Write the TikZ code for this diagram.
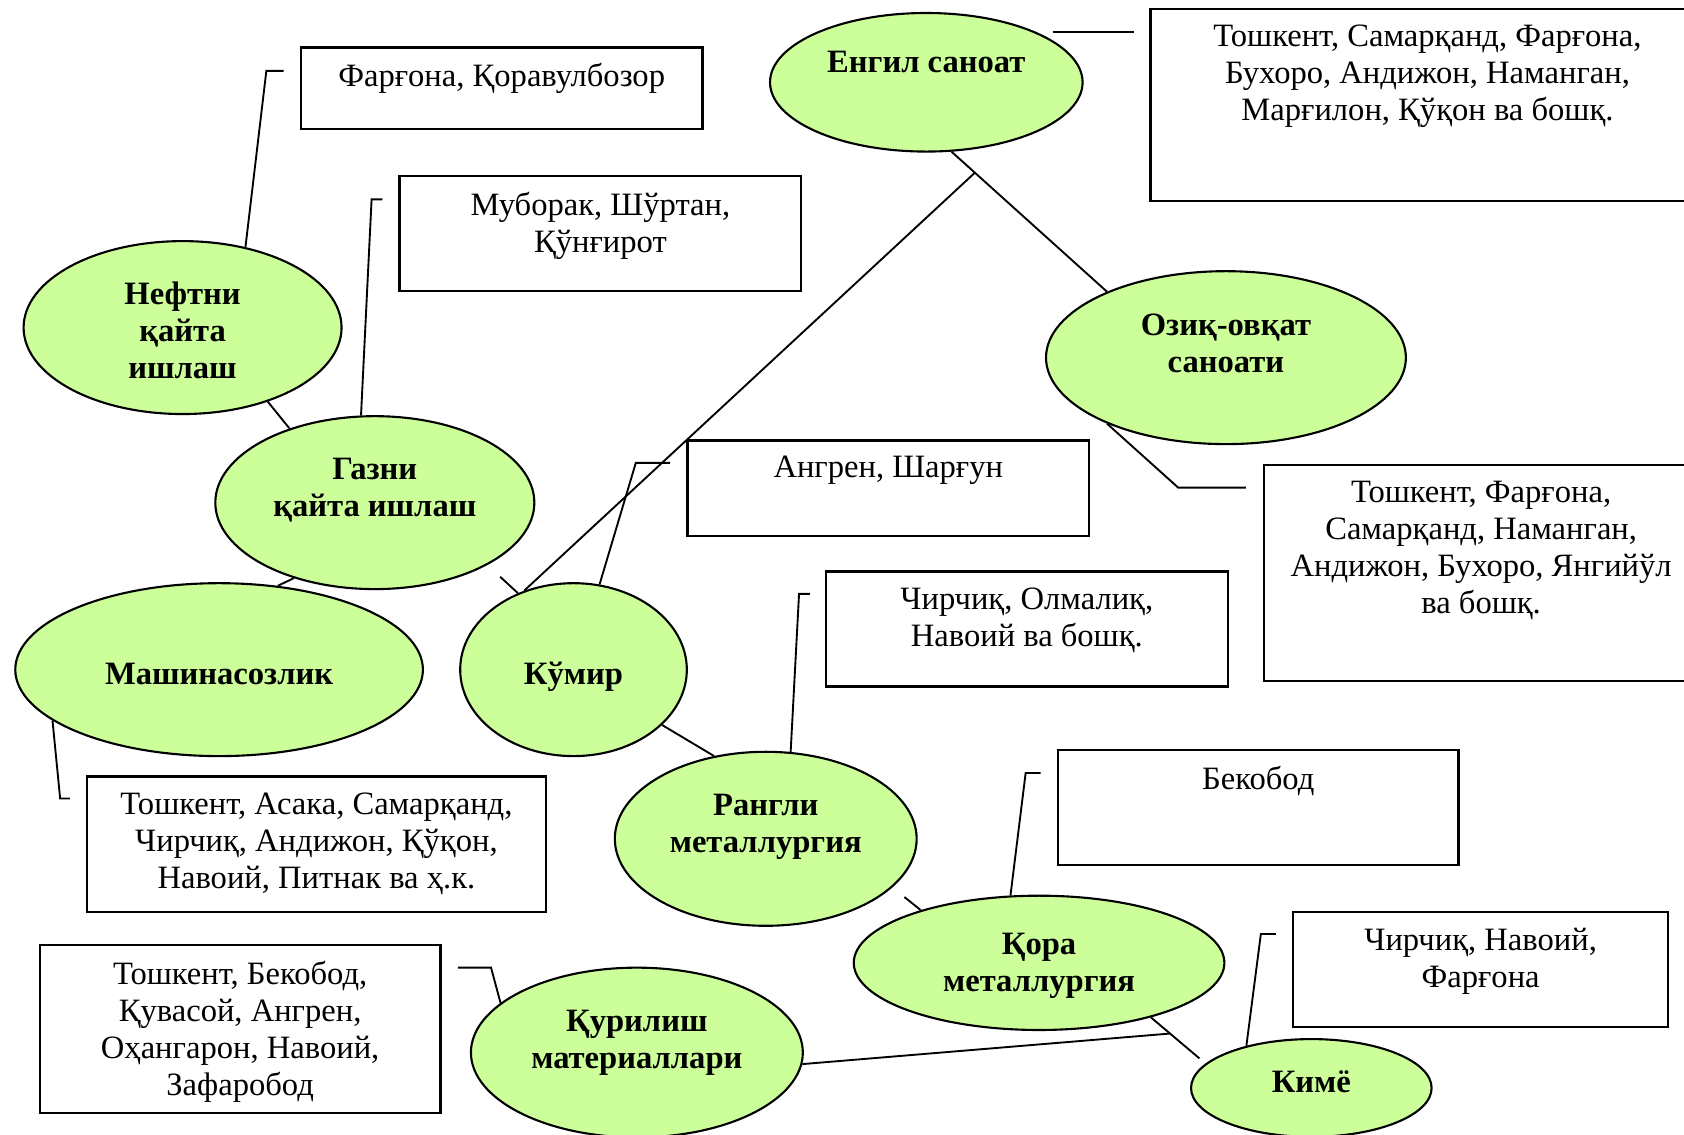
\documentclass[tikz,border=0pt]{standalone}
\usepackage{fontspec}
\setmainfont{Liberation Serif}
\usetikzlibrary{shapes.geometric,calc}
\definecolor{leafgreen}{HTML}{CCFF99}
\newcommand{\mapfont}{\fontsize{13.9pt}{15.8pt}\selectfont}
\tikzset{
  sector/.style={ellipse, draw, fill=leafgreen, line width=.9pt, inner sep=0pt},
  sectorname/.style={font=\mapfont\bfseries, align=center, inner sep=0pt},
  towns/.style={rectangle, draw, line width=1pt, anchor=north west, inner sep=0pt},
  townsname/.style={font=\mapfont, align=center, anchor=north, inner sep=0pt, yshift=-.25cm},
  link/.style={line width=.8pt}
}
\newcommand{\branch}[5]{%
 \node[sector, #3, label={[sectorname, yshift=#4]center:#5}] (#1) at (#2) {};%
}
\newcommand{\towns}[5]{%
 \node[towns, minimum width=#3, minimum height=#4, label={[townsname]north:#5}] (#1) at (#2) {};%
}

\begin{document}
\begin{tikzpicture}[x=0.0161cm, y=-0.0161cm]
  \path[use as bounding box, clip] (0,0) rectangle (1568,1056);
  \branch{engil}{862.5,76.6}{minimum width=4.685cm, minimum height=2.077cm}{.31cm}{Енгил саноат}
  \branch{neft}{170,305}{minimum width=4.766cm, minimum height=2.592cm}{-.04cm}{Нефтни\\қайта\\ишлаш}
  \branch{gaz}{349,468}{minimum width=4.782cm, minimum height=2.592cm}{.19cm}{Газни\\қайта ишлаш}
  \branch{ozik}{1141.5,333}{minimum width=5.394cm, minimum height=2.592cm}{.22cm}{Озиқ-овқат\\саноати}
  \branch{mashina}{204,623.5}{minimum width=6.11cm, minimum height=2.592cm}{-.06cm}{Машинасозлик}
  \branch{kumir}{534,623.5}{minimum width=3.397cm, minimum height=2.592cm}{-.11cm}{Кўмир}
  \branch{rangli}{713,781}{minimum width=4.524cm, minimum height=2.608cm}{.18cm}{Рангли\\металлургия}
  \branch{qora}{967.5,896.5}{minimum width=5.555cm, minimum height=2.013cm}{-.05cm}{Қора\\металлургия}
  \branch{qurilish}{593,980}{minimum width=4.975cm, minimum height=2.544cm}{.14cm}{Қурилиш\\материаллари}
  \branch{kime}{1221,1013}{minimum width=3.606cm, minimum height=1.465cm}{.1cm}{Кимё}

  \towns{b1}{279,43}{6.021cm}{1.224cm}{Фарғона, Қоравулбозор}
  \towns{b2}{371,163}{6.021cm}{1.723cm}{Муборак, Шўртан,\\Қўнғирот}
  \towns{b3}{1070,7}{8.308cm}{2.882cm}{Тошкент, Самарқанд, Фарғона,\\Бухоро, Андижон, Наманган,\\Марғилон, Қўқон ва бошқ.}
  \towns{b4}{639,409}{6.021cm}{1.433cm}{Ангрен, Шарғун}
  \towns{b5}{1176,432}{6.504cm}{3.236cm}{Тошкент, Фарғона,\\Самарқанд, Наманган,\\Андижон, Бухоро, Янгийўл\\ва бошқ.}
  \towns{b6}{768,531}{6.021cm}{1.723cm}{Чирчиқ, Олмалиқ,\\Навоий ва бошқ.}
  \towns{b7}{80,722}{6.875cm}{2.029cm}{Тошкент, Асака, Самарқанд,\\Чирчиқ, Андижон, Қўқон,\\Навоий, Питнак ва ҳ.к.}
  \towns{b8}{984,697}{6.005cm}{1.723cm}{Бекобод}
  \towns{b9}{36,879}{6.005cm}{2.512cm}{Тошкент, Бекобод,\\Қувасой, Ангрен,\\Оҳангарон, Навоий,\\Зафаробод}
  \towns{b10}{1203,848}{5.619cm}{1.723cm}{Чирчиқ, Навоий,\\Фарғона}

  \coordinate (t1) at ($(b1.north west)+(-15,23)$);
  \coordinate (t2) at ($(b2.north west)+(-15,22.6)$);
  \coordinate (t3) at ($(b3.north west)+(-14.5,22.6)$);
  \coordinate (t4) at ($(b4.north west)+(-15,22)$);
  \coordinate (t5) at ($(b5.north west)+(-16,22)$);
  \coordinate (t6) at ($(b6.north west)+(-14,22)$);
  \coordinate (t7) at ($(b7.north west)+(-15,21.5)$);
  \coordinate (t8) at ($(b8.north west)+(-15,22.7)$);
  \coordinate (t9) at ($(b9.north east)+(15,22)$);
  \coordinate (t10) at ($(b10.north west)+(-15,21.7)$);
  \coordinate (split) at ($(engil.-70)!.15!(ozik.151)$);
  \coordinate (tie) at ($(qora.-26)!.35!(kime.167)$);

  \draw[link] (neft.52) -- ($(t1)+(-16,0)$) -- (t1);
  \draw[link] (gaz.99) -- ($(t2)+(-10,0)$) -- (t2);
  \draw[link] ($(engil.east)+(-29,-47)$) -- (t3);
  \draw[link] (kumir.73) -- ($(t4)+(-32,0)$) -- (t4);
  \draw[link] (ozik.209) -- ($(t5)+(-63,0)$) -- (t5);
  \draw[link] (rangli.74) -- ($(t6)+(-10,0)$) -- (t6);
  \draw[link] (mashina.197) -- ($(t7)+(-9,0)$) -- (t7);
  \draw[link] (qora.113) -- ($(t8)+(-14,0)$) -- (t8);
  \draw[link] (qurilish.160) -- ($(t9)+(31,0)$) -- (t9);
  \draw[link] (kime.147) -- ($(t10)+(-14,0)$) -- (t10);

  \draw[link] (neft.-41) -- (gaz.139);
  \draw[link] (gaz.223) -- (mashina.55);
  \draw[link] (engil.-70) -- (ozik.151);
  \draw[link] (split) -- (kumir.122);
  \draw[link, shorten <=.26cm] (gaz.-29) -- (kumir.126);
  \draw[link] (kumir.-32) -- (rangli.122);
  \draw[link, shorten <=.23cm] (rangli.-21) -- (qora.156);
  \draw[link, shorten >=.12cm] (qora.-26) -- (kime.167);
  \draw[link] (qurilish.-4) -- (tie);
\end{tikzpicture}
\end{document}
